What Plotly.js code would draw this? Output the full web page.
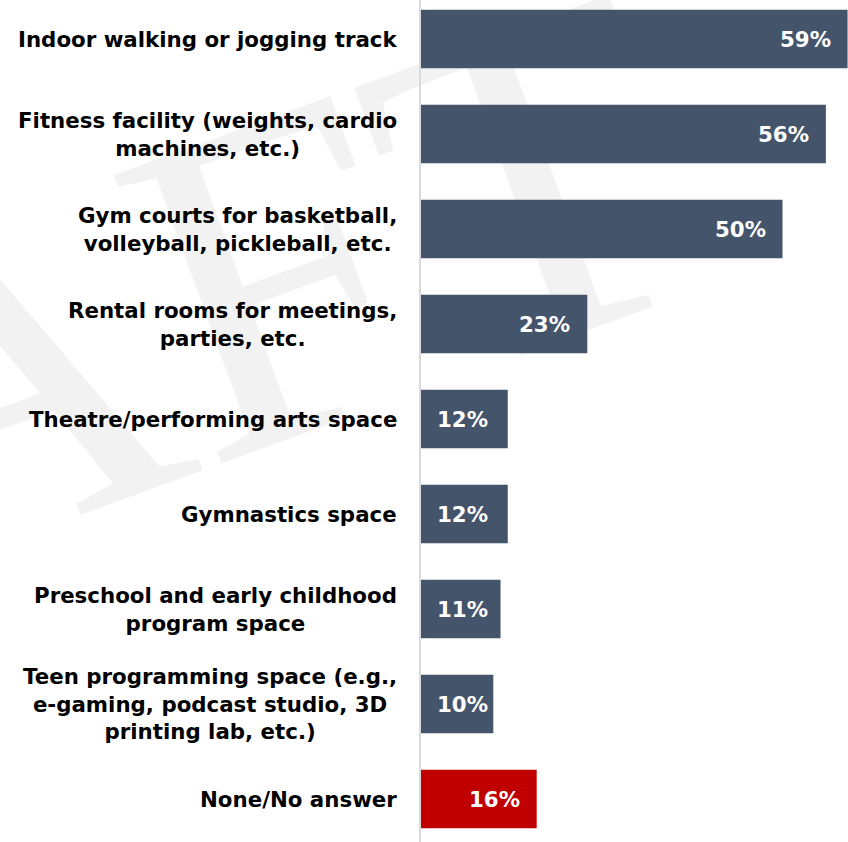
<!DOCTYPE html>
<html>
<head>
<meta charset="utf-8">
<script src="https://cdn.plot.ly/plotly-3.0.1.min.js"></script>
<style>
  html, body { margin: 0; padding: 0; background: #ffffff; }
  #chart { width: 848px; height: 842px; }
</style>
</head>
<body>
<div id="chart"></div>
<script>
// ---- data ----
const categories = [
  "Indoor walking or jogging track",
  "Fitness facility (weights, cardio<br>machines, etc.)",
  "Gym courts for basketball,<br>volleyball, pickleball, etc.",
  "Rental rooms for meetings,<br>parties, etc.",
  "Theatre/performing arts space",
  "Gymnastics space",
  "Preschool and early childhood<br>program space",
  "Teen programming space (e.g.,<br>e-gaming, podcast studio, 3D<br>printing lab, etc.)",
  "None/No answer"
];
const values = [59, 56, 50, 23, 12, 12, 11, 10, 16];
const valueLabels = ["59%", "56%", "50%", "23%", "12%", "12%", "11%", "10%", "16%"];
const highlightCategory = "None/No answer";

// ---- styles ----
const BLUE = "#44546a";
const RED = "#c00000";
const LABEL_FONT = "DejaVu Sans, Verdana, sans-serif";
const colors = categories.map(c => c === highlightCategory ? RED : BLUE);
const idx = categories.map((c, i) => i);

const trace = {
  type: "bar",
  orientation: "h",
  y: idx,
  x: values,
  width: 0.615,
  marker: { color: colors, line: { width: 0 } },
  hoverinfo: "skip",
  cliponaxis: false
};

const annotations = [];
// category labels (centered multi-line, right-anchored to the axis)
categories.forEach((c, i) => {
  annotations.push({
    xref: "paper", yref: "y", x: 0, y: i,
    xanchor: "right", yanchor: "middle", xshift: -22,
    text: "<b>" + c + "</b>", align: "center", showarrow: false,
    font: { family: LABEL_FONT, size: 21.33, color: "#000000" }
  });
});
// value labels inside bars
values.forEach((v, i) => {
  const small = v <= 12;
  annotations.push({
    xref: "x", yref: "y", x: small ? 0 : v, y: i,
    xanchor: small ? "left" : "right", yanchor: "middle",
    xshift: small ? 14 : -15,
    text: "<b>" + valueLabels[i] + "</b>", showarrow: false,
    font: { family: LABEL_FONT, size: 21.33, color: "#ffffff" }
  });
});

const layout = {
  width: 848, height: 842,
  margin: { l: 421, r: 0, t: 0, b: 0, pad: 0 },
  paper_bgcolor: "#ffffff",
  plot_bgcolor: "rgba(0,0,0,0)",
  showlegend: false,
  bargap: 0.385,
  xaxis: { range: [0, 59.06], visible: false, showgrid: false, zeroline: false, fixedrange: true },
  yaxis: {
    type: "linear", range: [8.4526, -0.4105], autorange: false,
    showticklabels: false, ticks: "", showgrid: false, zeroline: false,
    showline: true, linecolor: "#d9d9d9", linewidth: 2, fixedrange: true
  },
  annotations: annotations,
  shapes: [{
    type: "rect", xref: "paper", yref: "paper", layer: "below",
    x0: -1.165, x1: -1.155, y0: 0.585, y1: 0.588,
    line: { width: 0 }, fillcolor: "rgba(0,0,0,0)",
    label: {
      text: "DRAFT", textangle: -20, textposition: "middle center",
      font: { family: "Liberation Serif, serif", size: 470, color: "#f2f2f2" }
    }
  }]
};

Plotly.newPlot("chart", [trace], layout, { displayModeBar: false, staticPlot: true });
</script>
</body>
</html>
